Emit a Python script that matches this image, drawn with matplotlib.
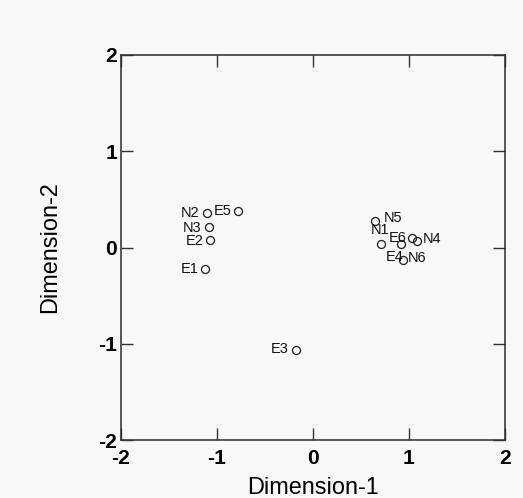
import matplotlib as mpl
import matplotlib.pyplot as plt

# configuration coordinates
labels = ["N2", "E5", "N3", "E2", "E1", "E3", "N5", "N1", "E4", "E6", "N4", "N6"]
dim1 = [-1.107, -0.778, -1.080, -1.073, -1.125, -0.177, 0.646, 0.705, 0.914, 1.034, 1.086, 0.934]
dim2 = [0.356, 0.377, 0.210, 0.080, -0.221, -1.070, 0.273, 0.038, 0.038, 0.100, 0.065, -0.135]

# label offsets (points) relative to each marker
offsets = [(-17, 0), (-16, 0), (-17, -1), (-15, -1), (-15, 0), (-16, 1),
           (18, 3), (-1, 14), (-6, -13), (-15, 0), (15, 2), (14, 2)]

ticks = [-2, -1, 0, 1, 2]

mpl.rcParams["font.family"] = "Liberation Sans"

DPI = 72
fig = plt.figure(figsize=(523 / DPI, 498 / DPI), dpi=DPI, facecolor="#f8f8f8")
ax = fig.add_axes([121 / 523, 58 / 498, 384 / 523, 385 / 498], facecolor="#f8f8f8")

ax.plot(dim1, dim2, linestyle="none", marker="o", markersize=8,
        markerfacecolor="none", markeredgecolor="#222222", markeredgewidth=1.3)

for lab, x, y, off in zip(labels, dim1, dim2, offsets):
    ax.annotate(lab, (x, y), xytext=off, textcoords="offset points",
                ha="center", va="center", fontsize=14.5, color="#111111")

ax.set_xlim(-2, 2)
ax.set_ylim(-2, 2)
ax.set_xticks(ticks)
ax.set_yticks(ticks)
ax.set_xticklabels([str(t) for t in ticks], fontweight="bold")
ax.set_yticklabels([str(t) for t in ticks], fontweight="bold")
ax.tick_params(direction="in", length=12, width=1.4, color="#333333",
               labelsize=21, top=True, right=True)
ax.tick_params(axis="x", pad=9)
ax.tick_params(axis="y", pad=4)
for s in ax.spines.values():
    s.set_linewidth(1.6)
    s.set_color("#333333")

ax.set_xlabel("Dimension-1", fontsize=23.5, labelpad=9)
ax.set_ylabel("Dimension-2", fontsize=23.5, labelpad=37)

fig.savefig("out.png", dpi=DPI, facecolor=fig.get_facecolor())
